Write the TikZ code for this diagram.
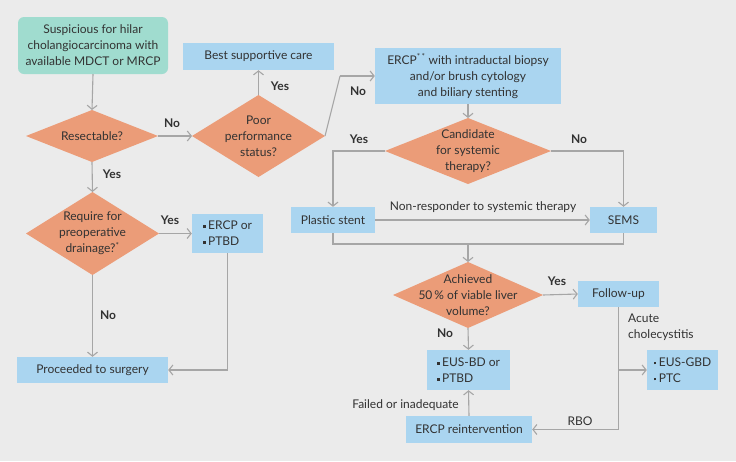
\documentclass[tikz,border=0pt]{standalone}
\usepackage{fontspec}
\setmainfont{Lato}
\usetikzlibrary{arrows.meta,shapes.geometric}

\definecolor{chartcolor0000}{RGB}{235,235,235}
\definecolor{chartcolor0001}{RGB}{160,220,207}
\definecolor{chartcolor0002}{RGB}{170,213,240}
\definecolor{chartcolor0003}{RGB}{235,156,120}
\definecolor{chartcolor0004}{RGB}{166,166,166}
\definecolor{chartcolor0005}{RGB}{50,50,50}

\newcommand{\sqbullet}{\rule[0.3ex]{2.6pt}{2.6pt}\hspace{2.5pt}}

\begin{document}
\begin{tikzpicture}[
  yscale = -1,
  every node/.style = {color=chartcolor0005,font=\fontsize{12}{16}\selectfont},
  cstyle0/.style = {fill=chartcolor0001,rounded corners=6pt,inner sep=0pt,align=center},
  cstyle1/.style = {fill=chartcolor0002,inner sep=0pt,align=center},
  cstyle2/.style = {diamond,fill=chartcolor0003,inner sep=0pt,outer sep=0pt},
  cstyle3/.style = {color=chartcolor0004,line width=1.1pt,-{Straight Barb[length=4pt,width=10pt]}},
  cstyle4/.style = {color=chartcolor0004,line width=1.1pt},
  cstyle5/.style = {font=\fontsize{12}{16}\selectfont\bfseries},
  dtext/.style = {align=center,inner sep=0pt},
]
  \fill[chartcolor0000] (0pt,0pt) rectangle (736pt,461pt);
  \useasboundingbox (0pt,0pt) rectangle (736pt,461pt);
  % boxes
  \node[cstyle0,minimum width=150pt,minimum height=57pt] (start) at (93pt,45.5pt)
    {Suspicious for hilar\\cholangiocarcinoma with\\available MDCT or MRCP};
  \node[cstyle1,minimum width=151pt,minimum height=27pt] (bsc) at (258.5pt,56.5pt) {Best supportive care};
  \node[cstyle1,minimum width=186pt,minimum height=56pt] (ercp) at (468pt,76pt)
    {ERCP\textsuperscript{*\,*} with intraductal biopsy\\and/or brush cytology\\and biliary stenting};
  \node[cstyle1,minimum width=84pt,minimum height=26pt] (plastic) at (333pt,220pt) {Plastic stent};
  \node[cstyle1,minimum width=67pt,minimum height=26pt] (sems) at (623.5pt,220pt) {SEMS};
  \node[cstyle1,minimum width=71pt,minimum height=39pt,align=left] (drain) at (227.5pt,233.5pt)
    {\sqbullet ERCP or\\\sqbullet PTBD};
  \node[cstyle1,minimum width=151pt,minimum height=26pt] (surgery) at (92.5pt,370pt) {Proceeded to surgery};
  \node[cstyle1,minimum width=81pt,minimum height=26pt] (follow) at (618.5pt,294pt) {Follow-up};
  \node[cstyle1,minimum width=83pt,minimum height=40pt,align=left] (eusbd) at (468.5pt,370pt)
    {\sqbullet EUS-BD or\\\sqbullet PTBD};
  \node[cstyle1,minimum width=126pt,minimum height=27pt] (reint) at (469pt,429.5pt) {ERCP reintervention};
  \node[cstyle1,minimum width=71pt,minimum height=40pt,align=left] (eusgbd) at (682.5pt,370pt)
    {\sqbullet EUS-GBD\\\sqbullet PTC};
  % decisions
  \node[cstyle2,minimum width=132pt,minimum height=52pt] (resect) at (92pt,136pt) {};
  \node[dtext] (resectt) at (resect.center) {Resectable?};
  \node[cstyle2,minimum width=133pt,minimum height=82pt] (poor) at (258.5pt,136pt) {};
  \node[dtext] (poort) at (poor.center) {Poor\\performance\\status?};
  \node[cstyle2,minimum width=166pt,minimum height=66pt] (cand) at (468pt,151pt) {};
  \node[dtext] (candt) at (cand.center) {Candidate\\for systemic\\therapy?};
  \node[cstyle2,minimum width=133pt,minimum height=83pt] (req) at (92.5pt,233.5pt) {};
  \node[dtext] (reqt) at (req.center) {Require for\\preoperative\\drainage?\textsuperscript{*}};
  \node[cstyle2,minimum width=150pt,minimum height=66pt] (achieved) at (468pt,295pt) {};
  \node[dtext] (achievedt) at (achieved.center) {Achieved\\50\,\% of viable liver\\volume?};
  % helper points
  \coordinate (kink) at (340pt,76pt);
  \coordinate (merge) at (468pt,244pt);
  \coordinate (split) at (follow.south |- eusgbd.west);
  % connectors
  \draw[cstyle3] (start.south) -- (resect.north);
  \draw[cstyle3] (resect.east) -- (poor.west);
  \draw[cstyle3] (poor.north) -- (bsc.south);
  \draw[cstyle4] (poor.east) -- (kink);
  \draw[cstyle3] (kink) -- (ercp.west);
  \draw[cstyle3] (ercp.south) -- (cand.north);
  \draw[cstyle3] (cand.west) -| (plastic.north);
  \draw[cstyle3] (cand.east) -| (sems.north);
  \draw[cstyle3] (plastic.east) -- (sems.west);
  \draw[cstyle4] (plastic.south) |- (merge) -| (sems.south);
  \draw[cstyle3] (merge) -- (achieved.north);
  \draw[cstyle3] (resect.south) -- (req.north);
  \draw[cstyle3] (req.east) -- (drain.west);
  \draw[cstyle3] (req.south) -- (surgery.north);
  \draw[cstyle3] (drain.south) |- (surgery.east);
  \draw[cstyle3] (achieved.east) -- (follow.west);
  \draw[cstyle3] (achieved.south) -- (eusbd.north);
  \draw[cstyle3] (follow.south) |- (reint.east);
  \draw[cstyle3] (split) -- (eusgbd.west);
  \draw[cstyle3] (reint.north) -- (eusbd.south);
  % labels
  \node[cstyle5] (l1) at (172pt,123pt) {No};
  \node[cstyle5] (l2) at (280pt,86pt) {Yes};
  \node[cstyle5] (l3) at (358pt,91pt) {No};
  \node[cstyle5] (l4) at (359pt,139pt) {Yes};
  \node[cstyle5] (l5) at (579pt,139pt) {No};
  \node (l6) at (483pt,207pt) {Non-responder to systemic therapy};
  \node[cstyle5] (l7) at (112pt,174pt) {Yes};
  \node[cstyle5] (l8) at (170pt,220pt) {Yes};
  \node[cstyle5] (l9) at (108pt,315pt) {No};
  \node[cstyle5] (l10) at (557pt,281pt) {Yes};
  \node[cstyle5] (l11) at (445pt,333pt) {No};
  \node (l12) at (580pt,421pt) {RBO};
  \node[anchor=west,align=left,inner sep=0pt] (l13) at (628pt,327.5pt) {Acute\\cholecystitis};
  \node[anchor=east,inner sep=0pt] (l14) at (459pt,405pt) {Failed or inadequate};
\end{tikzpicture}
\end{document}
